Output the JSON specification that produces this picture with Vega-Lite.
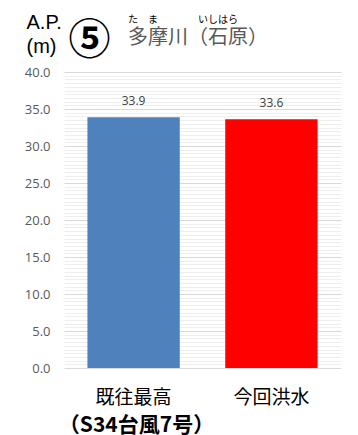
{
  "$schema": "https://vega.github.io/schema/vega-lite/v6.json",
  "width": 277,
  "height": 296,
  "autosize": {"type": "none"},
  "padding": {"left": 64, "top": 72, "right": 17, "bottom": 67},
  "background": "white",
  "config": {"view": {"stroke": null}, "font": "Noto Sans CJK JP"},
  "title": {
    "text": "た　ま　　　　いしはら",
    "subtitle": "多摩川（石原）",
    "anchor": "start",
    "frame": "group",
    "dx": 64,
    "offset": -36,
    "fontSize": 10,
    "fontWeight": "normal",
    "color": "#000000",
    "subtitleFontSize": 20,
    "subtitleColor": "#595959",
    "subtitlePadding": 3
  },
  "data": {"values": [
    {"category": "既往最高", "value": 33.9},
    {"category": "今回洪水", "value": 33.6}
  ]},
  "resolve": {"axis": {"y": "independent"}},
  "layer": [
    {
      "mark": {"type": "bar"},
      "encoding": {
        "x": {
          "field": "category", "type": "nominal", "sort": null,
          "scale": {"paddingInner": 0.33, "paddingOuter": 0.17},
          "axis": {
            "title": "（S34台風7号）",
            "titleFontSize": 21,
            "titleFontWeight": "bold",
            "titleColor": "#000000",
            "titleX": 72,
            "titleY": 46,
            "titleAnchor": "middle",
            "titleAlign": "center",
            "labelAngle": 0,
            "labelFontSize": 19,
            "labelColor": "#000000",
            "labelPadding": 20,
            "ticks": false,
            "domain": false
          }
        },
        "y": {
          "field": "value", "type": "quantitative",
          "scale": {"domain": [0, 40], "nice": false},
          "axis": {
            "values": [0,0.5,1,1.5,2,2.5,3,3.5,4,4.5,5,5.5,6,6.5,7,7.5,8,8.5,9,9.5,10,10.5,11,11.5,12,12.5,13,13.5,14,14.5,15,15.5,16,16.5,17,17.5,18,18.5,19,19.5,20,20.5,21,21.5,22,22.5,23,23.5,24,24.5,25,25.5,26,26.5,27,27.5,28,28.5,29,29.5,30,30.5,31,31.5,32,32.5,33,33.5,34,34.5,35,35.5,36,36.5,37,37.5,38,38.5,39,39.5,40],
            "labelExpr": "datum.value % 5 === 0 ? format(datum.value, '.1f') : ''",
            "labelFontSize": 13,
            "labelColor": "#595959",
            "labelFont": "Open Sans",
            "labelPadding": 14,
            "ticks": false,
            "domain": false,
            "gridColor": {"condition": {"test": "datum.value % 5 === 0", "value": "#d9d9d9"}, "value": "#eeeeee"},
            "title": ["A.P.", "(m)"],
            "titleAngle": 0,
            "titleAlign": "left",
            "titleBaseline": "top",
            "titleX": -38,
            "titleY": -60,
            "titleFont": "Liberation Sans",
            "titleFontSize": 20,
            "titleFontWeight": "normal",
            "titleColor": "#000000",
            "titleLineHeight": 24
          }
        },
        "color": {
          "field": "category", "type": "nominal",
          "scale": {"domain": ["既往最高", "今回洪水"], "range": ["#4F81BD", "#FF0000"]},
          "legend": null
        }
      }
    },
    {
      "mark": {"type": "text", "baseline": "bottom", "dy": -9, "fontSize": 12, "color": "#404040", "font": "Open Sans"},
      "encoding": {
        "x": {"field": "category", "type": "nominal", "sort": null},
        "y": {"field": "value", "type": "quantitative", "axis": null},
        "text": {"field": "value", "type": "quantitative", "format": ".1f"}
      }
    },
    {
      "mark": {"type": "point", "opacity": 0},
      "encoding": {
        "x": {"field": "category", "type": "nominal", "sort": null},
        "y": {
          "field": "value", "type": "quantitative",
          "axis": {
            "orient": "right",
            "labels": false, "ticks": false, "domain": false, "grid": false,
            "title": "⑤",
            "titleAngle": 0,
            "titleAlign": "center",
            "titleBaseline": "middle",
            "titleX": -252,
            "titleY": -32,
            "titleFontSize": 42,
            "titleFontWeight": "bold",
            "titleColor": "#000000"
          }
        }
      }
    }
  ]
}
